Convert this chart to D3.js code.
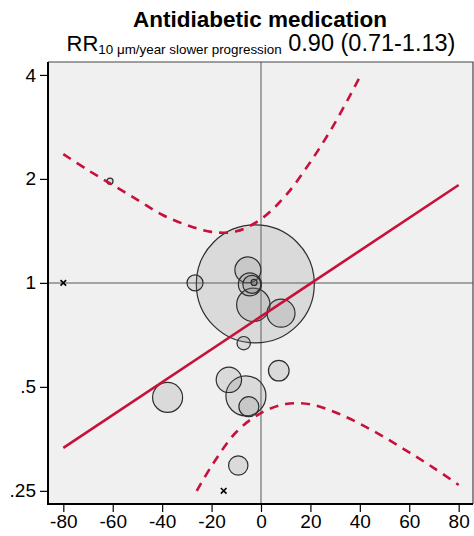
<!DOCTYPE html>
<html><head><meta charset="utf-8">
<script src="https://cdn.jsdelivr.net/npm/d3@7"></script>
<style>body{margin:0;background:#fff}svg{display:block;font-family:"Liberation Sans",Arial,sans-serif}</style>
</head><body>
<svg id="c" width="474" height="536"></svg>
<script>
// ---- data ----
const xTicks = [-80, -60, -40, -20, 0, 20, 40, 60, 80];
const yTicks = [0.25, 0.5, 1, 2, 4];
const yTickLabels = [".25", ".5", "1", "2", "4"];
const bubbleX = [-2.3, -26.7, -5.3, -4.5, -3.7, -2.8, -3.1, 8.1, -7.0, -37.8, -13.0, -6.1, -4.9, 7.2, -9.2, -61.1];
const bubbleRR = [0.993, 1.0, 1.09, 0.99, 0.99, 1.003, 0.864, 0.817, 0.669, 0.466, 0.524, 0.471, 0.438, 0.557, 0.296, 1.97];
const bubbleWeight = [100, 1.84, 4.86, 3.8, 2.33, 0.26, 8.0, 5.63, 1.29, 6.46, 4.63, 11.5, 2.87, 3.05, 2.7, 0.26];
const crossX = [-80, -15.1];
const crossRR = [1.0, 0.25];
const fitX = [-80, 80];
const fitRR = [0.333, 1.92];
const upperX = [-80, -70, -60, -50, -40, -30, -20, -10, 0, 10, 20, 30, 40];
const upperRR = [2.36, 2.12, 1.92, 1.74, 1.575, 1.47, 1.405, 1.41, 1.53, 1.79, 2.24, 2.91, 3.95];
const lowerX = [-26, -20, -10, 0, 10, 20, 30, 40, 50, 60, 70, 80];
const lowerRR = [0.25, 0.295, 0.37, 0.42, 0.446, 0.445, 0.422, 0.391, 0.357, 0.323, 0.291, 0.26];

// ---- layout ----
const svg = d3.select("#c");
const L = 48, R = 473, T = 62, B = 504;
const x = d3.scaleLinear().domain([-86.2, 85.8]).range([L, R]);
const y = d3.scaleLog().base(2).domain([0.229, 4.36]).range([B, T]);
const rs = d3.scaleSqrt().domain([0, 100]).range([0, 59]);
const red = "#c8103c";

svg.append("rect").attr("x", L).attr("y", T).attr("width", R - L).attr("height", B - T).attr("fill", "#f0f0f0");

svg.append("clipPath").attr("id", "pc").append("rect").attr("x", L).attr("y", T).attr("width", R - L).attr("height", B - T);
const g = svg.append("g").attr("clip-path", "url(#pc)");

// reference lines
g.append("line").attr("x1", L).attr("x2", R).attr("y1", y(1)).attr("y2", y(1)).attr("stroke", "#8a8a8a").attr("stroke-width", 1.5);
g.append("line").attr("x1", x(0)).attr("x2", x(0)).attr("y1", T).attr("y2", B).attr("stroke", "#8a8a8a").attr("stroke-width", 1.5);

// bubbles
const bubbles = bubbleX.map((d, i) => ({x: d, rr: bubbleRR[i], w: bubbleWeight[i]})).sort((a, b) => b.w - a.w);
g.selectAll("circle.b").data(bubbles).join("circle").attr("class", "b")
  .attr("cx", d => x(d.x)).attr("cy", d => y(d.rr)).attr("r", d => Math.max(rs(d.w), 3))
  .attr("fill", "rgba(128,128,128,0.2)").attr("stroke", "#2e2e2e").attr("stroke-width", 1.2);

// crosses
crossX.forEach((cx, i) => {
  const px = x(cx), py = y(crossRR[i]), s = 2.8;
  g.append("path").attr("d", `M${px - s},${py - s}L${px + s},${py + s}M${px - s},${py + s}L${px + s},${py - s}`)
    .attr("stroke", "#000").attr("stroke-width", 1.6);
});

// CI bands
const band = d3.line().x(d => x(d[0])).y(d => y(d[1])).curve(d3.curveCatmullRom);
g.append("path").attr("d", band(upperX.map((d, i) => [d, upperRR[i]])))
  .attr("fill", "none").attr("stroke", red).attr("stroke-width", 2.6).attr("stroke-dasharray", "9,7");
g.append("path").attr("d", band(lowerX.map((d, i) => [d, lowerRR[i]])))
  .attr("fill", "none").attr("stroke", red).attr("stroke-width", 2.6).attr("stroke-dasharray", "9,7");

// fit line
g.append("path").attr("d", d3.line().x(d => x(d[0])).y(d => y(d[1]))(fitX.map((d, i) => [d, fitRR[i]])))
  .attr("fill", "none").attr("stroke", red).attr("stroke-width", 2.6);

// frame (top/right)
svg.append("path").attr("d", `M${L},${T}H${R}V${B}`).attr("fill", "none").attr("stroke", "#444").attr("stroke-width", 1.2);

// axes
const yAxis = d3.axisLeft(y).tickValues(yTicks).tickFormat((d, i) => yTickLabels[i]).tickSize(8).tickPadding(4);
const ya = svg.append("g").attr("transform", `translate(${L},0)`).call(yAxis);
const xAxis = d3.axisBottom(x).tickValues(xTicks).tickFormat(d => String(d)).tickSize(8).tickPadding(3);
const xa = svg.append("g").attr("transform", `translate(0,${B})`).call(xAxis);
[ya, xa].forEach(a => {
  a.select(".domain").attr("stroke", "#000").attr("stroke-width", 2);
  a.selectAll(".tick line").attr("stroke", "#000").attr("stroke-width", 1.2);
  a.selectAll(".tick text").attr("fill", "#000").style("font-size", "19px").style("font-family", "Liberation Sans, Arial, sans-serif");
});
ya.select(".domain").attr("d", `M0,${T}V${B + 1}`);
xa.select(".domain").attr("d", `M${L - 1},0H${R}`);

// titles
svg.append("text").attr("x", 260).attr("y", 27).attr("text-anchor", "middle")
  .style("font-size", "22.5px").style("font-weight", "bold").text("Antidiabetic medication");
const st = svg.append("text").attr("x", 261).attr("y", 51).attr("text-anchor", "middle").style("font-size", "22px");
st.append("tspan").text("RR");
st.append("tspan").attr("dy", 3).style("font-size", "13.4px").text("10 μm/year slower progression");
st.append("tspan").attr("dy", -3).style("font-size", "23.5px").text(" 0.90 (0.71-1.13)");
</script>
</body></html>
